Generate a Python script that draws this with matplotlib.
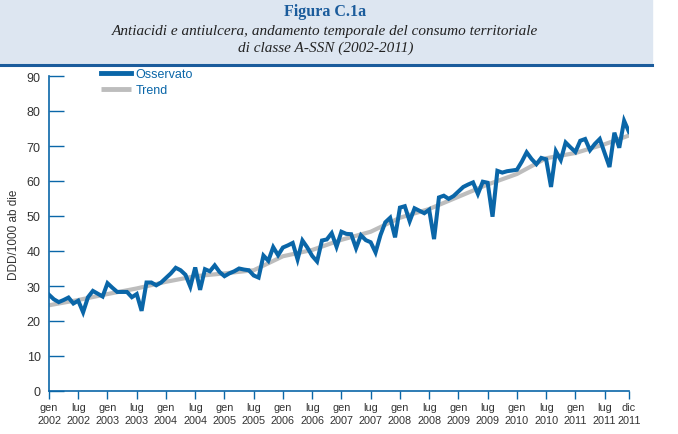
import matplotlib
matplotlib.use("Agg")
import matplotlib.pyplot as plt
from matplotlib.patches import Rectangle
from matplotlib.lines import Line2D

# monthly consumption, gen 2002 - dic 2011 (DDD/1000 ab die)
osservato = [
    27.5, 26.2, 25.4, 26.0, 26.7, 25.0, 25.8, 22.5, 26.8, 28.6, 27.8, 27.0,
    30.8, 29.5, 28.3, 28.3, 28.3, 26.8, 27.7, 22.9, 31.0, 31.0, 30.2, 31.0,
    32.3, 33.6, 35.2, 34.5, 33.2, 29.8, 35.3, 28.9, 34.8, 34.2, 35.9, 34.0,
    32.8, 33.6, 34.2, 35.0, 34.7, 34.5, 33.0, 32.4, 38.7, 37.2, 41.1, 38.8,
    41.0, 41.6, 42.3, 37.6, 43.0, 41.0, 38.6, 37.0, 43.0, 43.3, 45.1, 41.2,
    45.5, 44.9, 44.8, 40.8, 44.5, 43.1, 42.5, 39.6, 44.5, 48.2, 49.5, 43.9,
    52.4, 52.8, 48.5, 52.2, 51.5, 50.8, 51.8, 43.4, 55.3, 55.8, 54.9, 55.7,
    57.0, 58.3, 59.0, 59.6, 56.3, 59.8, 59.5, 49.8, 62.9, 62.4, 62.8, 63.0,
    63.2, 65.5, 68.2, 66.3, 64.8, 66.6, 66.2, 58.3, 68.5, 66.0, 71.0, 69.6,
    68.3, 71.5, 72.0, 68.8, 70.6, 72.0, 68.0, 64.0, 73.8, 69.5, 77.2, 74.0,
]

# trend read every six months
trend_mesi = [0, 6, 12, 18, 24, 30, 36, 42, 48, 54, 60, 66, 72, 78, 84, 90,
              96, 102, 108, 114, 119]
trend = [24.5, 26.0, 27.7, 29.3, 31.2, 32.8, 33.6, 34.5, 38.5, 40.3, 43.2,
         45.5, 49.5, 52.0, 55.5, 59.0, 62.0, 66.5, 68.0, 70.5, 73.0]

tick_mesi = [0, 6, 12, 18, 24, 30, 36, 42, 48, 54, 60, 66, 72, 78, 84, 90,
             96, 102, 108, 114, 119]
tick_labels = ["gen\n2002", "lug\n2002", "gen\n2003", "lug\n2003", "gen\n2004",
               "lug\n2004", "gen\n2005", "lug\n2005", "gen\n2006", "lug\n2006",
               "gen\n2007", "lug\n2007", "gen\n2008", "lug\n2008", "gen\n2009",
               "lug\n2009", "gen\n2010", "lug\n2010", "gen\n2011", "lug\n2011",
               "dic\n2011"]

blu = "#0a66a8"
blu_scuro = "#1b5c9c"
grigio = "#bdbdbd"
testo = "#333333"
sans = ["Liberation Sans", "DejaVu Sans"]

fig = plt.figure(figsize=(6.78, 4.35), dpi=100)

# header band
fig.patches.append(Rectangle((0, 1 - 65 / 435), 652 / 678, 65 / 435,
                             transform=fig.transFigure, color="#dde6f1", zorder=0))
fig.lines.append(Line2D([0, 652 / 678], [1 - 66 / 435] * 2, transform=fig.transFigure,
                        color=blu_scuro, lw=2.2))
fig.text(0.48, 1 - 12 / 435, "Figura C.1a", ha="center", va="center",
         fontsize=11.5, fontweight="bold", color=blu_scuro,
         family=["Liberation Serif", "DejaVu Serif"])
fig.text(0.48, 1 - 31 / 435,
         "Antiacidi e antiulcera, andamento temporale del consumo territoriale",
         ha="center", va="center", fontsize=11, style="italic", color="#222222",
         family=["Liberation Serif", "DejaVu Serif"])
fig.text(0.48, 1 - 48 / 435, "di classe A-SSN (2002-2011)", ha="center", va="center",
         fontsize=11, style="italic", color="#222222",
         family=["Liberation Serif", "DejaVu Serif"])

ax = fig.add_axes([49 / 678, 43 / 435, 580 / 678, 315 / 435])
mesi = list(range(len(osservato)))
ax.plot(trend_mesi, trend, color=grigio, lw=3.0, solid_capstyle="butt", zorder=2,
        label="Trend")
ax.plot(mesi, osservato, color=blu, lw=2.9, solid_joinstyle="miter", zorder=3,
        label="Osservato")

ax.set_xlim(0, 119)
ax.set_ylim(0, 90)
ax.set_yticks(range(0, 91, 10))
ax.set_xticks(tick_mesi)
ax.set_xticklabels(tick_labels, fontsize=7.8, color=testo, family=sans,
                   linespacing=1.35)
ax.set_yticklabels([str(v) for v in range(0, 91, 10)], fontsize=9, color=testo,
                   family=sans)
ax.tick_params(axis="y", direction="in", length=11, width=1, color=blu, pad=6)
ax.tick_params(axis="x", direction="out", length=6, width=1, color=blu, pad=2)
for s in ["top", "right"]:
    ax.spines[s].set_visible(False)
for s in ["left", "bottom"]:
    ax.spines[s].set_color(blu)
    ax.spines[s].set_linewidth(1.2)
ax.set_ylabel("DDD/1000 ab die", fontsize=8.5, color=testo, family=sans, labelpad=5)

handles, labels = ax.get_legend_handles_labels()
leg = ax.legend(handles[::-1], labels[::-1], loc="upper left",
                bbox_to_anchor=(0.07, 1.06), frameon=False,
                handlelength=2.4, handletextpad=0.4, labelspacing=0.3,
                prop={"family": sans, "size": 9})
for t in leg.get_texts():
    t.set_color(blu)
for h in leg.get_lines():
    h.set_linewidth(3.5)

fig.savefig("out.png", dpi=100)
